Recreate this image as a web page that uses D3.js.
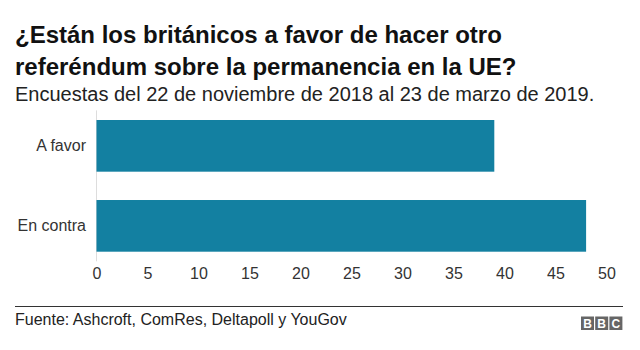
<!DOCTYPE html>
<html><head><meta charset="utf-8">
<script src="https://cdn.jsdelivr.net/npm/d3@7"></script>
<style>body{margin:0;background:#fff;} text{font-family:"Liberation Sans",Arial,Helvetica,sans-serif;}</style>
</head><body>
<script>
const categories = ["A favor", "En contra"];
const values = [39, 48];
const tickValues = [0, 5, 10, 15, 20, 25, 30, 35, 40, 45, 50];
const titleLines = ["¿Están los británicos a favor de hacer otro", "referéndum sobre la permanencia en la UE?"];
const subtitle = "Encuestas del 22 de noviembre de 2018 al 23 de marzo de 2019.";
const source = "Fuente: Ashcroft, ComRes, Deltapoll y YouGov";

const W = 640, H = 350;
const svg = d3.select("body").append("svg").attr("width", W).attr("height", H);

svg.selectAll("text.title").data(titleLines).join("text")
  .attr("x", 15).attr("y", (d, i) => 43 + i * 32)
  .attr("font-size", 24).attr("font-weight", "bold").attr("fill", "#111").text(d => d);
svg.append("text").attr("x", 15).attr("y", 101).attr("font-size", 20).attr("fill", "#222").text(subtitle);

const x = d3.scaleLinear().domain([0, 50]).range([96.5, 606.5]);
const y = d3.scaleBand().domain(categories).range([110.4, 261.3]).paddingInner(0.354).paddingOuter(0.12);

svg.append("line").attr("x1", x(0)).attr("x2", x(0)).attr("y1", 110.4).attr("y2", 261.3)
  .attr("stroke", "#ddd").attr("stroke-width", 1);

svg.selectAll("rect.bar").data(categories).join("rect")
  .attr("x", x(0)).attr("y", d => y(d))
  .attr("width", (d, i) => x(values[i]) - x(0)).attr("height", y.bandwidth())
  .attr("fill", "#1380a1");

const xAxis = svg.append("g").attr("transform", "translate(0,265)")
  .call(d3.axisBottom(x).tickValues(tickValues).tickSize(0).tickPadding(3));
xAxis.select(".domain").remove();
xAxis.selectAll("text").attr("font-size", 16).attr("fill", "#333")
  .style("font-family", "Liberation Sans, Arial, sans-serif");

const yAxis = svg.append("g").attr("transform", "translate(92,0)")
  .call(d3.axisLeft(y).tickSize(0).tickPadding(6));
yAxis.select(".domain").remove();
yAxis.selectAll("text").attr("font-size", 16).attr("fill", "#333")
  .style("font-family", "Liberation Sans, Arial, sans-serif");

svg.append("line").attr("x1", 15).attr("x2", 623).attr("y1", 306.5).attr("y2", 306.5)
  .attr("stroke", "#333").attr("stroke-width", 1);
svg.append("text").attr("x", 15).attr("y", 325).attr("font-size", 16).attr("fill", "#222").text(source);

const logo = ["B", "B", "C"];
const lg = svg.append("g");
lg.selectAll("rect").data(logo).join("rect")
  .attr("x", (d, i) => 581 + i * 14.2).attr("y", 316.5).attr("width", 13).attr("height", 13.5).attr("fill", "#666");
lg.selectAll("text").data(logo).join("text")
  .attr("x", (d, i) => 581 + i * 14.2 + 6.5).attr("y", 327.5).attr("text-anchor", "middle")
  .attr("font-size", 12).attr("font-weight", "bold").attr("fill", "#fff").text(d => d);
</script>
</body></html>
